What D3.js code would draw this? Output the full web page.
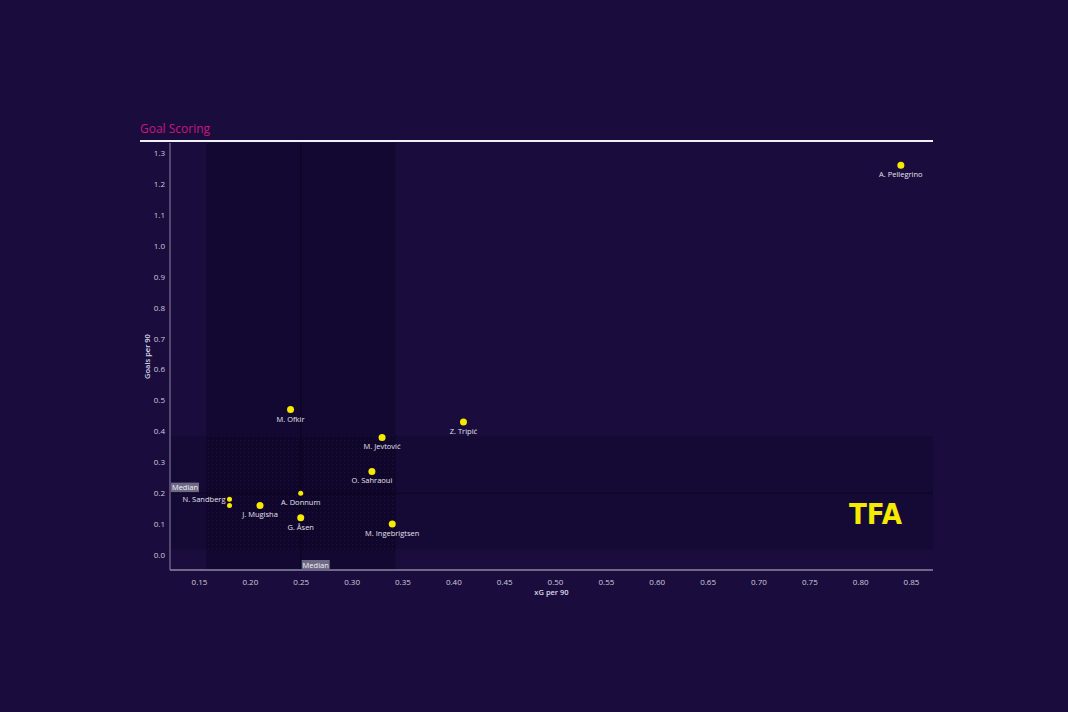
<!DOCTYPE html>
<html><head><meta charset="utf-8">
<script src="https://cdn.jsdelivr.net/npm/d3@7"></script>
<style>html,body{margin:0;padding:0;background:#1a0d3e;}svg{display:block;}</style>
</head><body>
<svg id="c" width="1068" height="712"></svg>
<script>
const players = ["A. Pellegrino","M. Ofkir","Z. Tripić","M. Jevtović","O. Sahraoui","A. Donnum","N. Sandberg","","J. Mugisha","G. Åsen","M. Ingebrigtsen"];
const xgPer90 = [0.84,0.24,0.41,0.33,0.32,0.25,0.18,0.18,0.21,0.25,0.34];
const goalsPer90 = [1.26,0.47,0.43,0.38,0.27,0.20,0.18,0.16,0.16,0.12,0.10];
const xTicks = [0.15,0.20,0.25,0.30,0.35,0.40,0.45,0.50,0.55,0.60,0.65,0.70,0.75,0.80,0.85];
const yTicks = [0.0,0.1,0.2,0.3,0.4,0.5,0.6,0.7,0.8,0.9,1.0,1.1,1.2,1.3];
const medianX = 0.25, medianY = 0.20;
const bandX = [0.157, 0.3434];
const bandY = [0.018, 0.385];

const svg = d3.select("#c");
const L=170, R=933, T=143, B=570;
const x = d3.scaleLinear().domain([0.1215,0.8716]).range([L,R]);
const y = d3.scaleLinear().domain([-0.0485,1.3318]).range([B,T]);

svg.append("rect").attr("width",1068).attr("height",712).attr("fill","#1a0d3e");

const defs = svg.append("defs");
const pat = defs.append("pattern").attr("id","dots").attr("width",4).attr("height",4).attr("patternUnits","userSpaceOnUse");
pat.append("rect").attr("width",1).attr("height",1).attr("fill","rgba(255,255,255,0.05)");

// bands
svg.append("rect").attr("x",L).attr("y",y(bandY[1])).attr("width",R-L).attr("height",y(bandY[0])-y(bandY[1])).attr("fill","rgba(5,0,25,0.2)");
svg.append("rect").attr("x",x(bandX[0])).attr("y",T).attr("width",x(bandX[1])-x(bandX[0])).attr("height",B-T).attr("fill","rgba(5,0,25,0.32)");
svg.append("rect").attr("x",x(bandX[0])).attr("y",y(bandY[1])).attr("width",x(bandX[1])-x(bandX[0])).attr("height",y(bandY[0])-y(bandY[1])).attr("fill","url(#dots)");

// median lines
svg.append("line").attr("x1",x(medianX)).attr("x2",x(medianX)).attr("y1",T).attr("y2",B).attr("stroke","rgba(0,0,0,0.45)").attr("stroke-width",1);
svg.append("line").attr("x1",L).attr("x2",R).attr("y1",y(medianY)).attr("y2",y(medianY)).attr("stroke","rgba(0,0,0,0.45)").attr("stroke-width",1);

const fontF = "'Open Sans', 'DejaVu Sans', sans-serif";
const xAxis = svg.append("g").attr("transform",`translate(0,${B})`).call(d3.axisBottom(x).tickValues(xTicks).tickFormat(d3.format(".2f")).tickSize(0).tickPadding(9));
const yAxis = svg.append("g").attr("transform",`translate(${L},0)`).call(d3.axisLeft(y).tickValues(yTicks).tickFormat(d3.format(".1f")).tickSize(0).tickPadding(5));
[xAxis,yAxis].forEach(g=>{
  g.select(".domain").attr("stroke","#8d87a3").attr("stroke-width",1.5);
  g.selectAll("text").attr("fill","#cfcbdb").attr("font-size",8).attr("font-family",fontF).attr("font-weight",400);
});
xAxis.select(".domain").attr("d",`M${L},0H${R}`);
yAxis.select(".domain").attr("d",`M0,${T}V${B}`).attr("stroke-width",1);

svg.append("text").attr("x",(L+R)/2).attr("y",595).attr("text-anchor","middle").attr("fill","#dcd8e6").attr("font-size",7.5).attr("font-weight",600).attr("font-family",fontF).text("xG per 90");
svg.append("text").attr("transform",`translate(150,${(T+B)/2}) rotate(-90)`).attr("text-anchor","middle").attr("fill","#dcd8e6").attr("font-size",7.5).attr("font-weight",600).attr("font-family",fontF).text("Goals per 90");

function medLabel(px,py){
  const g=svg.append("g");
  g.append("rect").attr("x",px).attr("y",py).attr("width",28).attr("height",9.5).attr("fill","#6e6985");
  g.append("text").attr("x",px+14).attr("y",py+7.5).attr("text-anchor","middle").attr("fill","#f2f0f7").attr("font-size",7.5).attr("font-weight",400).attr("font-family",fontF).text("Median");
}
medLabel(L+1, y(medianY)-10.5);
medLabel(x(medianX)+1, B-10);

svg.append("text").attr("x",140).attr("y",133).attr("fill","#c8187d").attr("font-size",12).attr("font-family",fontF).text("Goal Scoring");
svg.append("line").attr("x1",140).attr("x2",R).attr("y1",141).attr("y2",141).attr("stroke","#f2f0f7").attr("stroke-width",2);

const data = players.map((p,i)=>({name:p,x:xgPer90[i],y:goalsPer90[i]}));
const small = new Set([5,6,7]);
svg.append("g").selectAll("circle").data(data).join("circle")
  .attr("cx",d=>x(d.x)).attr("cy",d=>y(d.y))
  .attr("r",(d,i)=>small.has(i)?2.5:3.5).attr("fill","#f5ea00");

svg.append("g").selectAll("text").data(data.filter(d=>d.name)).join("text")
  .attr("x",d=> d.name==="N. Sandberg" ? x(d.x)-4 : x(d.x))
  .attr("y",d=> d.name==="N. Sandberg" ? y(d.y)+3 : y(d.y)+12)
  .attr("text-anchor",d=> d.name==="N. Sandberg" ? "end":"middle")
  .attr("fill","#e4e1ec").attr("font-size",7.5).attr("font-weight",400).attr("font-family",fontF)
  .text(d=>d.name);

svg.append("text").attr("x",849).attr("y",524).attr("fill","#f5ea00").attr("font-size",28).attr("font-weight",800)
  .attr("font-family","'DejaVu Sans',sans-serif").attr("textLength",53).attr("lengthAdjust","spacingAndGlyphs").text("TFA");
</script>
</body></html>
